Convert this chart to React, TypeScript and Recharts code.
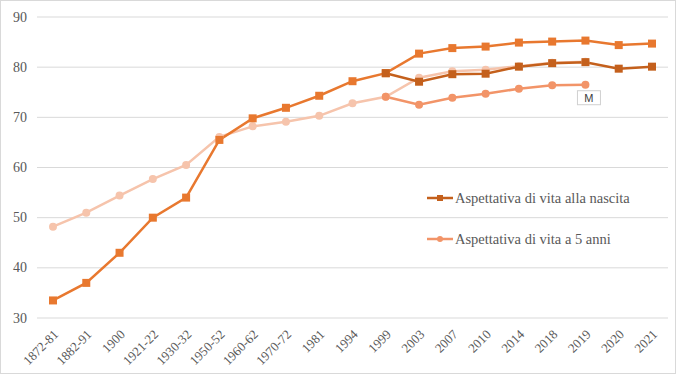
import React from "react";
import { LineChart, Line, XAxis, YAxis, CartesianGrid, LabelList } from "recharts";

const periods = [
  "1872-81", "1882-91", "1900", "1921-22", "1930-32", "1950-52", "1960-62", "1970-72", "1981",
  "1994", "1999", "2003", "2007", "2010", "2014", "2018", "2019", "2020", "2021",
];

// at birth: total until 1999, then women
const birthF = [33.5, 37, 43, 50, 54, 65.5, 69.8, 71.9, 74.3, 77.2, 78.8, 82.7, 83.8, 84.1, 84.9, 85.1, 85.3, 84.4, 84.7];
// at birth, men (branch from 1999)
const birthM = [null, null, null, null, null, null, null, null, null, null, 78.8, 77.1, 78.6, 78.7, 80.1, 80.8, 81.0, 79.7, 80.1];
// at 5 years: total until 1999, then women
const age5F = [48.2, 51, 54.4, 57.7, 60.5, 66.1, 68.2, 69.1, 70.3, 72.8, 74.1, 77.9, 79.2, 79.5, 80.2, 80.9, 81.1, null, null];
// at 5 years, men (branch from 1999)
const age5M = [null, null, null, null, null, null, null, null, null, null, 74.1, 72.5, 73.9, 74.7, 75.7, 76.4, 76.5, null, null];

const yTicks = [30, 40, 50, 60, 70, 80, 90];

const data = periods.map((p, i) => ({
  period: p,
  birthF: birthF[i],
  birthM: birthM[i],
  age5F: age5F[i],
  age5M: age5M[i],
}));

const ORANGE = "#E8782F";
const DARK = "#C4601C";
const PALE = "#F6C4AC";
const SALMON = "#F29468";
const TEXT = "#595959";
const FONT = "Liberation Serif";

const XTick = (props: any) => {
  const { x, y, payload } = props;
  return (
    <g transform={`translate(${x + 3},${y + 6})`}>
      <text transform="rotate(-45)" textAnchor="end" dominantBaseline="central" fill={TEXT} fontSize={13} fontFamily={FONT}>
        {payload.value}
      </text>
    </g>
  );
};

const YTick = (props: any) => {
  const { x, y, payload } = props;
  return (
    <text x={x - 2} y={y} textAnchor="end" dominantBaseline="central" fill={TEXT} fontSize={14} fontFamily={FONT}>
      {payload.value}
    </text>
  );
};

const Square = (props: any) => {
  const { cx, cy, stroke, index } = props;
  if (cx == null || cy == null) return <g key={index} />;
  return <rect key={index} x={cx - 4} y={cy - 4} width={8} height={8} fill={stroke} />;
};

const Dot = (props: any) => {
  const { cx, cy, stroke, index } = props;
  if (cx == null || cy == null) return <g key={index} />;
  return <circle key={index} cx={cx} cy={cy} r={4} fill={stroke} />;
};

const MLabel = (props: any) => {
  const { x, y, index } = props;
  if (periods[index] !== "2019") return null;
  return (
    <g>
      <rect x={x - 8} y={y + 6} width={23} height={14} fill="#fff" stroke="#D0D0D0" strokeWidth={1} />
      <text x={x + 3.5} y={y + 13.5} textAnchor="middle" dominantBaseline="central" fontSize={11} fontFamily="Liberation Sans" fill="#404040">
        M
      </text>
    </g>
  );
};

const legendItems = [
  { label: "Aspettativa di vita alla nascita", color: DARK, shape: "square" },
  { label: "Aspettativa di vita a 5 anni", color: SALMON, shape: "circle" },
];

export default function App() {
  return (
    <div
      style={{
        position: "absolute",
        left: 0,
        top: 0,
        width: 676,
        height: 374,
        border: "1px solid #D9D9D9",
        boxSizing: "border-box",
        background: "#fff",
      }}
    >
      <LineChart width={674} height={372} data={data} margin={{ top: 16, right: 7, bottom: 0, left: 0 }}>
        <CartesianGrid vertical={false} stroke="#D9D9D9" strokeWidth={1} />
        <XAxis
          dataKey="period"
          interval={0}
          axisLine={false}
          tickLine={false}
          height={55}
          padding={{ left: 16, right: 16 }}
          tick={<XTick />}
        />
        <YAxis
          domain={[30, 90]}
          ticks={yTicks}
          axisLine={false}
          tickLine={false}
          width={36}
          tick={<YTick />}
        />
        <Line type="linear" dataKey="age5F" stroke={PALE} strokeWidth={2.5} dot={<Dot />} isAnimationActive={false} />
        <Line type="linear" dataKey="age5M" stroke={SALMON} strokeWidth={2.5} dot={<Dot />} isAnimationActive={false}>
          <LabelList dataKey="age5M" content={<MLabel />} />
        </Line>
        <Line type="linear" dataKey="birthF" stroke={ORANGE} strokeWidth={2.5} dot={<Square />} isAnimationActive={false} />
        <Line type="linear" dataKey="birthM" stroke={DARK} strokeWidth={2.5} dot={<Square />} isAnimationActive={false} />
      </LineChart>
      <div style={{ position: "absolute", left: 426, top: 187, fontFamily: FONT, fontSize: 14.5, color: TEXT }}>
        {legendItems.map((it, i) => (
          <div key={it.label} style={{ display: "flex", alignItems: "center", height: 20, marginBottom: i === 0 ? 21 : 0 }}>
            <svg width={27} height={10} style={{ marginRight: 1 }}>
              <line x1={0} y1={5} x2={26} y2={5} stroke={it.color} strokeWidth={2.5} />
              {it.shape === "square" ? (
                <rect x={10} y={2} width={6} height={6} fill={it.color} />
              ) : (
                <circle cx={13} cy={5} r={3} fill={it.color} />
              )}
            </svg>
            <span>{it.label}</span>
          </div>
        ))}
      </div>
    </div>
  );
}
